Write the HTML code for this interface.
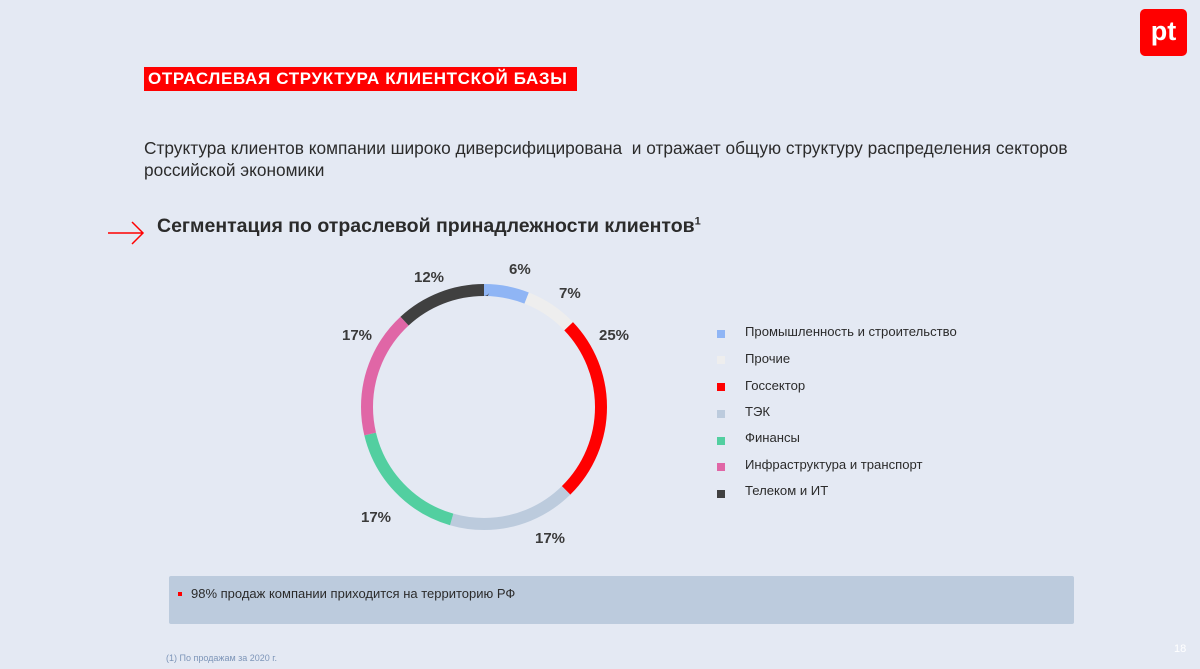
<!DOCTYPE html>
<html><head><meta charset="utf-8"><style>
body{margin:0;width:1200px;height:669px;background:#e4e9f3;font-family:"Liberation Sans",sans-serif;position:relative;overflow:hidden;color:#2b2b2b}
.a{position:absolute;white-space:nowrap}
.lg{position:absolute;left:717px;width:8px;height:8px}
.lt{position:absolute;left:745px;font-size:13.1px;color:#2b2b2b}
.p{position:absolute;font-size:15px;font-weight:bold;color:#3a3a3a}
</style></head><body>
<div class="a" style="left:1140px;top:9px;width:47px;height:47px;background:#ff0000;border-radius:5px;color:#fff;font-size:27px;font-weight:bold;text-align:center;line-height:44px">pt</div>
<div class="a" style="left:144px;top:67px;width:433px;height:24px;background:#ff0000;"></div>
<div class="a" style="left:148px;top:67px;color:#fff;font-weight:bold;font-size:17px;line-height:24px;letter-spacing:0.65px">ОТРАСЛЕВАЯ СТРУКТУРА КЛИЕНТСКОЙ БАЗЫ</div>
<div class="a" style="left:144px;top:137px;font-size:17.3px;line-height:22px;color:#2b2b2b">Структура клиентов компании широко диверсифицирована &nbsp;и отражает общую структуру распределения секторов<br>российской экономики</div>
<svg class="a" style="left:106px;top:218px" width="40" height="30"><path d="M2 15H37M26 4L37 15L26 26" stroke="#ff0000" stroke-width="1.5" fill="none"/></svg>
<div class="a" style="left:157px;top:215px;font-size:19.5px;font-weight:bold;color:#2b2b2b">Сегментация по отраслевой принадлежности клиентов<sup style="font-size:11px">1</sup></div>
<svg class="a" style="left:0;top:0" width="1200" height="669">
<g transform="rotate(-90 484 407)" fill="none" stroke-width="12">
<circle cx="484" cy="407" r="117" pathLength="101" stroke="#8fb5f5" stroke-dasharray="6 95" stroke-dashoffset="0"/>
<circle cx="484" cy="407" r="117" pathLength="101" stroke="#eeeeee" stroke-dasharray="7 94" stroke-dashoffset="-6"/>
<circle cx="484" cy="407" r="117" pathLength="101" stroke="#ff0000" stroke-dasharray="25 76" stroke-dashoffset="-13"/>
<circle cx="484" cy="407" r="117" pathLength="101" stroke="#bccbdd" stroke-dasharray="17 84" stroke-dashoffset="-38"/>
<circle cx="484" cy="407" r="117" pathLength="101" stroke="#52cfa0" stroke-dasharray="17 84" stroke-dashoffset="-55"/>
<circle cx="484" cy="407" r="117" pathLength="101" stroke="#e066a6" stroke-dasharray="17 84" stroke-dashoffset="-72"/>
<circle cx="484" cy="407" r="117" pathLength="101" stroke="#404040" stroke-dasharray="12 89" stroke-dashoffset="-89"/>
</g></svg>
<div class="p" style="left:509px;top:261px">6%</div>
<div class="p" style="left:559px;top:285px">7%</div>
<div class="p" style="left:599px;top:327px">25%</div>
<div class="p" style="left:535px;top:530px">17%</div>
<div class="p" style="left:361px;top:509px">17%</div>
<div class="p" style="left:342px;top:327px">17%</div>
<div class="p" style="left:414px;top:269px">12%</div>
<div class="lg" style="top:330px;background:#8fb5f5"></div><div class="lt" style="top:324px">Промышленность и строительство</div>
<div class="lg" style="top:356px;background:#eeeeee"></div><div class="lt" style="top:351px">Прочие</div>
<div class="lg" style="top:383px;background:#ff0000"></div><div class="lt" style="top:378px">Госсектор</div>
<div class="lg" style="top:410px;background:#bccbdd"></div><div class="lt" style="top:404px">ТЭК</div>
<div class="lg" style="top:437px;background:#52cfa0"></div><div class="lt" style="top:430px">Финансы</div>
<div class="lg" style="top:463px;background:#e066a6"></div><div class="lt" style="top:457px">Инфраструктура и транспорт</div>
<div class="lg" style="top:490px;background:#404040"></div><div class="lt" style="top:483px">Телеком и ИТ</div>
<div class="a" style="left:169px;top:576px;width:905px;height:48px;background:#bccbdd;border-radius:2px"></div>
<div class="a" style="left:178px;top:592px;width:4px;height:4px;background:#ff0000"></div>
<div class="a" style="left:191px;top:586px;font-size:13px;color:#2b2b2b">98% продаж компании приходится на территорию РФ</div>
<div class="a" style="left:166px;top:653px;font-size:9px;color:#7d95b8">(1) По продажам за 2020 г.</div>
<div class="a" style="left:1174px;top:643px;font-size:11px;color:#fff">18</div>
</body></html>
